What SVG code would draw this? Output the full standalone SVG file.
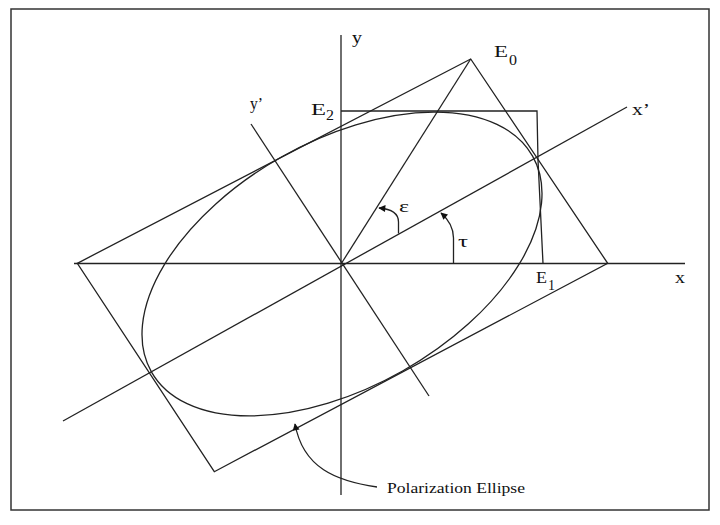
<svg xmlns="http://www.w3.org/2000/svg" width="720" height="525" viewBox="0 0 720 525">
  <style>
    .ln { fill: none; stroke: #222; stroke-width: 1.3; }
    .lbl { font-family: "Liberation Serif", "Times New Roman", serif; font-size: 17px; fill: #111; }
    .sub { font-family: "Liberation Serif", "Times New Roman", serif; font-size: 15px; fill: #111; }
    .cap { font-family: "Liberation Serif", "Times New Roman", serif; font-size: 14px; fill: #111; }
  </style>
  <defs>
    <marker id="arrow" viewBox="0 0 10 10" refX="9" refY="5" markerWidth="8" markerHeight="7" markerUnits="userSpaceOnUse" orient="auto">
      <path d="M0,0 L10,5 L0,10 z" fill="#111"/>
    </marker>
  </defs>
  <rect x="0" y="0" width="720" height="525" fill="#fff"/>
  <rect id="frame" x="11" y="9" width="698" height="501" fill="none" stroke="#333" stroke-width="1.5"/>

  <g id="axes">
    <line class="ln" x1="74" y1="263.5" x2="685" y2="263.5"/>
    <line class="ln" x1="341" y1="35" x2="341" y2="495"/>
    <line class="ln" x1="63" y1="421" x2="627" y2="107"/>
    <line class="ln" x1="251" y1="124" x2="429" y2="396"/>
  </g>

  <g id="rectangle">
    <polygon class="ln" points="77.3,263.3 470.7,59 607.7,263.3 214.3,471.7"/>
  </g>

  <g id="e0-line">
    <line class="ln" x1="341" y1="264" x2="470.7" y2="59"/>
  </g>

  <g id="e-box">
    <polyline class="ln" points="341,111 537,111 538,160 543,263.5"/>
  </g>

  <g id="ellipse">
    <ellipse class="ln" cx="342" cy="264" rx="219" ry="123" transform="rotate(-29.5 342 264)"/>
  </g>

  <g id="connectors">
    <path class="ln" d="M398.5,233.5 L398.5,222 C398.5,213 392,209 379,208" marker-end="url(#arrow)"/>
    <path class="ln" d="M453.5,263 L453.5,238 C453.5,228 449,220 441,213" marker-end="url(#arrow)"/>
    <path class="ln" d="M377,487 C336,481 303,468 295,424" marker-end="url(#arrow)"/>
  </g>

  <g id="labels">
    <text class="lbl" x="352" y="43" textLength="10" lengthAdjust="spacingAndGlyphs">y</text>
    <text class="lbl" x="494" y="57" textLength="14" lengthAdjust="spacingAndGlyphs">E</text>
    <text class="sub" x="509" y="65" textLength="8" lengthAdjust="spacingAndGlyphs">0</text>
    <text class="lbl" x="250" y="109" textLength="13" lengthAdjust="spacingAndGlyphs">y’</text>
    <text class="lbl" x="311" y="115" textLength="15" lengthAdjust="spacingAndGlyphs">E</text>
    <text class="sub" x="326" y="120" textLength="8" lengthAdjust="spacingAndGlyphs">2</text>
    <text class="lbl" x="632" y="115" textLength="18" lengthAdjust="spacingAndGlyphs">x’</text>
    <text class="lbl" x="399" y="212" textLength="10" lengthAdjust="spacingAndGlyphs">ε</text>
    <text class="lbl" x="458" y="247" textLength="10" lengthAdjust="spacingAndGlyphs">τ</text>
    <text class="lbl" x="536" y="283" textLength="11" lengthAdjust="spacingAndGlyphs">E</text>
    <text class="sub" x="548" y="290" textLength="7" lengthAdjust="spacingAndGlyphs">1</text>
    <text class="lbl" x="675" y="283" textLength="10" lengthAdjust="spacingAndGlyphs">x</text>
    <text class="cap" x="387" y="493" textLength="138" lengthAdjust="spacingAndGlyphs">Polarization Ellipse</text>
  </g>
</svg>
